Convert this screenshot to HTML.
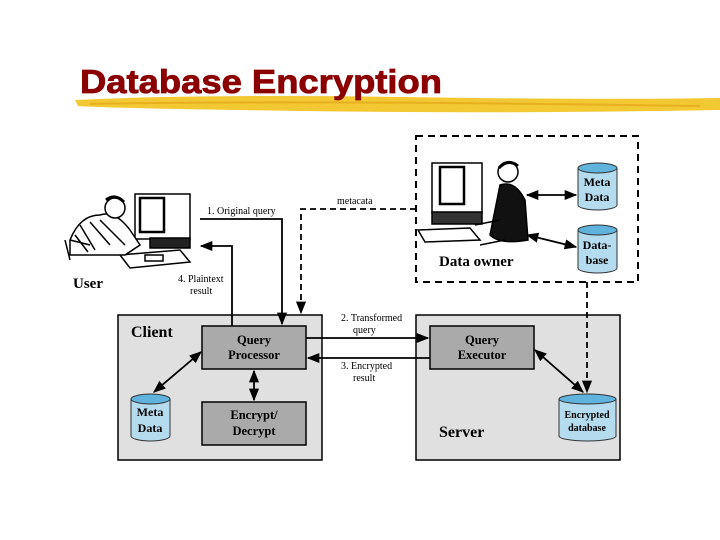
<!DOCTYPE html>
<html><head><meta charset="utf-8"><style>
html,body{margin:0;padding:0;background:#fff;}
svg{display:block}
text{font-family:"Liberation Serif",serif;}
</style></head><body>
<svg width="720" height="540" viewBox="0 0 720 540" xmlns="http://www.w3.org/2000/svg">
<defs>
<marker id="a" viewBox="0 0 10 10" refX="9" refY="5" markerWidth="7" markerHeight="7" orient="auto-start-reverse"><path d="M0,1 L10,5 L0,9 Z" fill="#000"/></marker>
</defs>
<!-- title -->
<path d="M75,100 Q200,94 400,97 T720,98 L720,110 Q500,114 300,111 T78,106 Z" fill="#f2c833"/>
<path d="M90,104 Q300,100 700,106" stroke="#e8b020" stroke-width="2" fill="none"/>
<text x="80" y="93" font-weight="bold" font-size="33" fill="#8b0000" textLength="362" lengthAdjust="spacingAndGlyphs" stroke="#8b0000" stroke-width="0.8" style="font-family:'Liberation Sans',sans-serif">Database Encryption</text>

<!-- owner dashed box -->
<rect x="416" y="136" width="222" height="146" fill="none" stroke="#000" stroke-width="2" stroke-dasharray="7,5"/>
<!-- client / server -->
<rect x="118" y="315" width="204" height="145" fill="#e0e0e0" stroke="#000" stroke-width="1.5"/>
<rect x="416" y="315" width="204" height="145" fill="#e0e0e0" stroke="#000" stroke-width="1.5"/>
<text x="131" y="337" font-size="16" font-weight="bold">Client</text>
<text x="439" y="437" font-size="16" font-weight="bold">Server</text>

<rect x="202" y="326" width="104" height="43" fill="#aaa" stroke="#000" stroke-width="1.5"/>
<text x="254" y="344" font-size="12.5" font-weight="bold" text-anchor="middle">Query</text>
<text x="254" y="359" font-size="12.5" font-weight="bold" text-anchor="middle">Processor</text>
<rect x="202" y="402" width="104" height="43" fill="#aaa" stroke="#000" stroke-width="1.5"/>
<text x="254" y="419" font-size="12.5" font-weight="bold" text-anchor="middle">Encrypt/</text>
<text x="254" y="435" font-size="12.5" font-weight="bold" text-anchor="middle">Decrypt</text>
<rect x="430" y="326" width="104" height="43" fill="#aaa" stroke="#000" stroke-width="1.5"/>
<text x="482" y="344" font-size="12.5" font-weight="bold" text-anchor="middle">Query</text>
<text x="482" y="359" font-size="12.5" font-weight="bold" text-anchor="middle">Executor</text>

<!-- cylinders -->
<g fill="#b5dcee" stroke="#333" stroke-width="1">
<path d="M131,399 L131,436 A19.5,5 0 0 0 170,436 L170,399"/><ellipse cx="150.5" cy="399" rx="19.5" ry="5" fill="#5fb3dc"/>
<path d="M559,399 L559,436 A28.5,5 0 0 0 616,436 L616,399"/><ellipse cx="587.5" cy="399" rx="28.5" ry="5" fill="#5fb3dc"/>
<path d="M578,168 L578,205 A19.5,5 0 0 0 617,205 L617,168"/><ellipse cx="597.5" cy="168" rx="19.5" ry="5" fill="#5fb3dc"/>
<path d="M578,230 L578,268 A19.5,5 0 0 0 617,268 L617,230"/><ellipse cx="597.5" cy="230" rx="19.5" ry="5" fill="#5fb3dc"/>
</g>
<text x="150" y="416" font-size="12" font-weight="bold" text-anchor="middle">Meta</text>
<text x="150" y="432" font-size="12" font-weight="bold" text-anchor="middle">Data</text>
<text x="587" y="418" font-size="10" font-weight="bold" text-anchor="middle">Encrypted</text>
<text x="587" y="431" font-size="10" font-weight="bold" text-anchor="middle">database</text>
<text x="597" y="186" font-size="12" font-weight="bold" text-anchor="middle">Meta</text>
<text x="597" y="201" font-size="12" font-weight="bold" text-anchor="middle">Data</text>
<text x="597" y="249" font-size="12" font-weight="bold" text-anchor="middle">Data-</text>
<text x="597" y="264" font-size="12" font-weight="bold" text-anchor="middle">base</text>

<!-- arrows -->
<g stroke="#000" stroke-width="1.8" fill="none">
<path d="M200,219 L282,219 L282,324" marker-end="url(#a)"/>
<path d="M232,326 L232,246 L201,246" marker-end="url(#a)"/>
<path d="M306,338 L428,338" marker-end="url(#a)"/>
<path d="M430,358 L308,358" marker-end="url(#a)"/>
<path d="M254,371 L254,400" marker-start="url(#a)" marker-end="url(#a)"/>
<path d="M201,352 L154,392" marker-start="url(#a)" marker-end="url(#a)"/>
<path d="M535,350 L583,392" marker-start="url(#a)" marker-end="url(#a)"/>
<path d="M527,195 L576,195" marker-start="url(#a)" marker-end="url(#a)"/>
<path d="M527,235 L576,247" marker-start="url(#a)" marker-end="url(#a)"/>
<path d="M416,209 L301,209 L301,313" stroke-dasharray="6,4" marker-end="url(#a)"/>
<path d="M587,282 L587,392" stroke-dasharray="6,4" marker-end="url(#a)"/>
</g>
<g font-size="10">
<text x="207" y="214">1. Original query</text>
<text x="337" y="204">metacata</text>
<text x="178" y="282">4. Plaintext</text>
<text x="190" y="294">result</text>
<text x="341" y="321">2. Transformed</text>
<text x="353" y="333">query</text>
<text x="341" y="369">3. Encrypted</text>
<text x="353" y="381">result</text>
</g>
<text x="73" y="288" font-size="15" font-weight="bold">User</text>
<text x="439" y="266" font-size="15" font-weight="bold">Data owner</text>

<!-- user clipart -->
<g stroke="#000" stroke-width="1.5" fill="#fff">
<rect x="135" y="194" width="55" height="45"/>
<rect x="140" y="198" width="24" height="34" fill="#fff" stroke-width="2.5"/>
<rect x="150" y="238" width="40" height="10" fill="#222"/>
<path d="M120,255 L180,250 L190,262 L130,268 Z"/>
<path d="M70,240 Q80,215 100,215 Q115,210 130,230 L140,245 L125,255 L95,255 L70,255 Z" fill="#fff"/>
<path d="M80,225 L95,250 M90,222 L110,245 M100,220 L125,245 M75,235 L88,252" fill="none"/>
<circle cx="115" cy="208" r="10"/>
<path d="M106,200 Q115,193 124,202" fill="none" stroke-width="3"/>
<path d="M65,240 L70,260 M70,240 L90,245" fill="none"/>
<rect x="145" y="255" width="18" height="6"/>
</g>
<!-- owner clipart -->
<g stroke="#000" stroke-width="1.5" fill="#fff">
<rect x="432" y="163" width="50" height="50"/>
<rect x="440" y="167" width="24" height="37" fill="#fff" stroke-width="2.5"/>
<rect x="432" y="212" width="50" height="12" fill="#333"/>
<path d="M418,230 L470,228 L480,240 L425,242 Z"/>
<path d="M500,185 Q515,180 525,200 L528,240 Q500,245 490,235 L495,210 Z" fill="#111"/>
<circle cx="508" cy="172" r="10"/>
<path d="M499,168 Q508,158 518,166" fill="none" stroke-width="3"/>
<path d="M475,225 L500,220 M480,245 L505,240" fill="none"/>
</g>
</svg>
</body></html>
